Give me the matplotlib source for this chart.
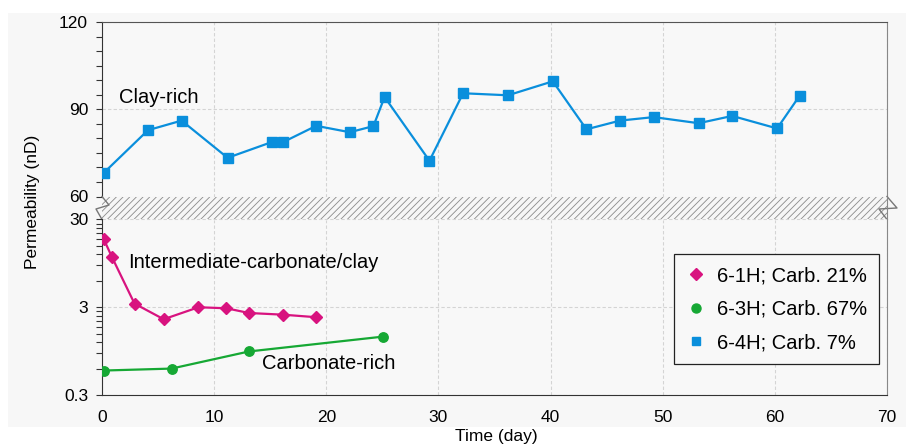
import numpy as np
import matplotlib
matplotlib.use("Agg")
import matplotlib.pyplot as plt
from matplotlib.lines import Line2D
from matplotlib.patches import Rectangle
from matplotlib.ticker import FixedLocator, MultipleLocator, NullFormatter

plt.rcParams['font.family'] = ['Liberation Sans', 'DejaVu Sans']
plt.rcParams['hatch.linewidth'] = 0.6

# sample 6-4H (clay-rich), linear scale panel
t_4h = [0.15, 4.1, 7.1, 11.2, 15.2, 16.1, 19.1, 22.1, 24.2, 25.2, 29.2,
        32.2, 36.2, 40.2, 43.2, 46.2, 49.2, 53.2, 56.2, 60.2, 62.2]
k_4h = [68.1, 82.8, 86.1, 73.3, 78.8, 78.6, 84.3, 82.1, 84.2, 94.2, 72.3,
        95.5, 94.8, 99.6, 83.1, 86.1, 87.3, 85.2, 87.7, 83.4, 94.6]

# sample 6-1H (intermediate), log scale panel
t_1h = [0.15, 0.9, 2.9, 5.5, 8.6, 11.1, 13.1, 16.1, 19.1]
k_1h = [18.0, 11.1, 3.3, 2.19, 3.0, 2.92, 2.58, 2.47, 2.31]

# sample 6-3H (carbonate-rich)
t_3h = [0.15, 6.2, 13.1, 25.1]
k_3h = [0.57, 0.60, 0.94, 1.39]

labels = ['6-1H; Carb. 21%', '6-3H; Carb. 67%', '6-4H; Carb. 7%']
c_1h, c_3h, c_4h = '#d8137f', '#16a834', '#0a8fdc'

W, H = 906, 445
fig = plt.figure(figsize=(W / 100, H / 100), dpi=100)
fig.patch.set_facecolor('white')
fig.add_artist(Rectangle((8 / W, 1 - 427 / H), 1 - 8 / W, 414 / H,
                         transform=fig.transFigure, facecolor='#f7f7f7',
                         edgecolor='none', zorder=-10))

def px_box(x0, y0, x1, y1):
    return [x0 / W, 1 - y1 / H, (x1 - x0) / W, (y1 - y0) / H]

ax_top = fig.add_axes(px_box(102, 22, 887, 196.5))
ax_band = fig.add_axes(px_box(102, 196.5, 887, 219.5))
ax_bot = fig.add_axes(px_box(102, 219.5, 887, 395))

grid_kw = dict(color='#d4d4d4', linestyle=(0, (3, 2)), linewidth=0.8)

for ax in (ax_top, ax_bot):
    ax.set_facecolor('#f8f8f8')
    ax.set_xlim(0, 70)
    ax.set_xticks(range(0, 71, 10))
    ax.grid(True, which='major', **grid_kw)
    ax.set_axisbelow(True)
    ax.tick_params(axis='y', which='both', direction='out', length=4,
                   width=0.8, color='#333333', labelsize=12.5, pad=6)
    ax.tick_params(axis='x', length=0, labelsize=12.5, pad=11)
    ax.spines['left'].set_color('#333333')
    ax.spines['right'].set_color('#888888')

# upper panel
ax_top.plot(t_4h, k_4h, color=c_4h, lw=1.6, marker='s', ms=6.8, zorder=3)
ax_top.set_ylim(60, 120)
ax_top.yaxis.set_major_locator(FixedLocator([60, 90, 120]))
ax_top.yaxis.set_minor_locator(MultipleLocator(5))
ax_top.tick_params(axis='x', labelbottom=False)
ax_top.spines['bottom'].set_visible(False)
ax_top.spines['top'].set_color('#555555')
ax_top.text(1.5, 94, 'Clay-rich', fontsize=14.5, va='center', ha='left')

# lower panel, log scale
ax_bot.plot(t_1h, k_1h, color=c_1h, lw=1.6, marker='D', ms=6.5, zorder=3)
ax_bot.plot(t_3h, k_3h, color=c_3h, lw=1.6, marker='o', ms=6.8, zorder=3)
ax_bot.set_yscale('log')
ax_bot.set_ylim(0.3, 30)
ax_bot.yaxis.set_major_locator(FixedLocator([0.3, 3, 30]))
ax_bot.set_yticklabels(['0.3', '3', '30'])
minor = [0.3 * k for k in range(2, 10)] + [3 * k for k in range(2, 10)]
ax_bot.yaxis.set_minor_locator(FixedLocator(minor))
ax_bot.yaxis.set_minor_formatter(NullFormatter())
ax_bot.spines['top'].set_visible(False)
ax_bot.spines['bottom'].set_color('#333333')
ax_bot.text(2.35, 9.6, 'Intermediate-carbonate/clay', fontsize=14.5,
            va='center', ha='left')
ax_bot.text(14.3, 0.68, 'Carbonate-rich', fontsize=14.5, va='center',
            ha='left')

handles = [Line2D([], [], ls='none', marker='D', ms=6, color=c_1h),
           Line2D([], [], ls='none', marker='o', ms=6.5, color=c_3h),
           Line2D([], [], ls='none', marker='s', ms=6, color=c_4h)]
leg = ax_bot.legend(handles, labels, loc='upper right',
                    bbox_to_anchor=(0.99, 0.803), fontsize=14.5,
                    frameon=True, fancybox=False, framealpha=1,
                    facecolor='#f8f8f8', edgecolor='#222222',
                    handlelength=1.0, handletextpad=0.55, labelspacing=0.72,
                    borderpad=0.6, borderaxespad=0)
leg.get_frame().set_linewidth(0.9)

# axis break band
ax_band.set_xlim(0, 1)
ax_band.set_ylim(0, 1)
ax_band.axis('off')
ax_band.add_patch(Rectangle((0, 0), 1, 1, transform=ax_band.transAxes,
                            facecolor='#f6f6f6', edgecolor='#8a8a8a',
                            hatch='/////', linewidth=0))
zig_x = [0, 7 / 785, -6 / 785, 0]
zig_y = [1, 0.63, 0.457, 0]
ax_band.plot(zig_x, zig_y, color='#777777', lw=1, clip_on=False)
ax_band.plot([1, 1 + 10 / 785, 1 - 8 / 785, 1], [1, 0.5, 0.457, 0],
             color='#777777', lw=1, clip_on=False)
ax_band.plot([1, 1], [0, 1], color='#888888', lw=0.8, clip_on=False)

fig.text(496 / W, 1 - 437 / H, 'Time (day)', fontsize=12.5, ha='center',
         va='center')
fig.text(33 / W, 1 - 202 / H, 'Permeability (nD)', fontsize=12.5,
         rotation=90, ha='center', va='center')

fig.savefig('out.png', dpi=100)
